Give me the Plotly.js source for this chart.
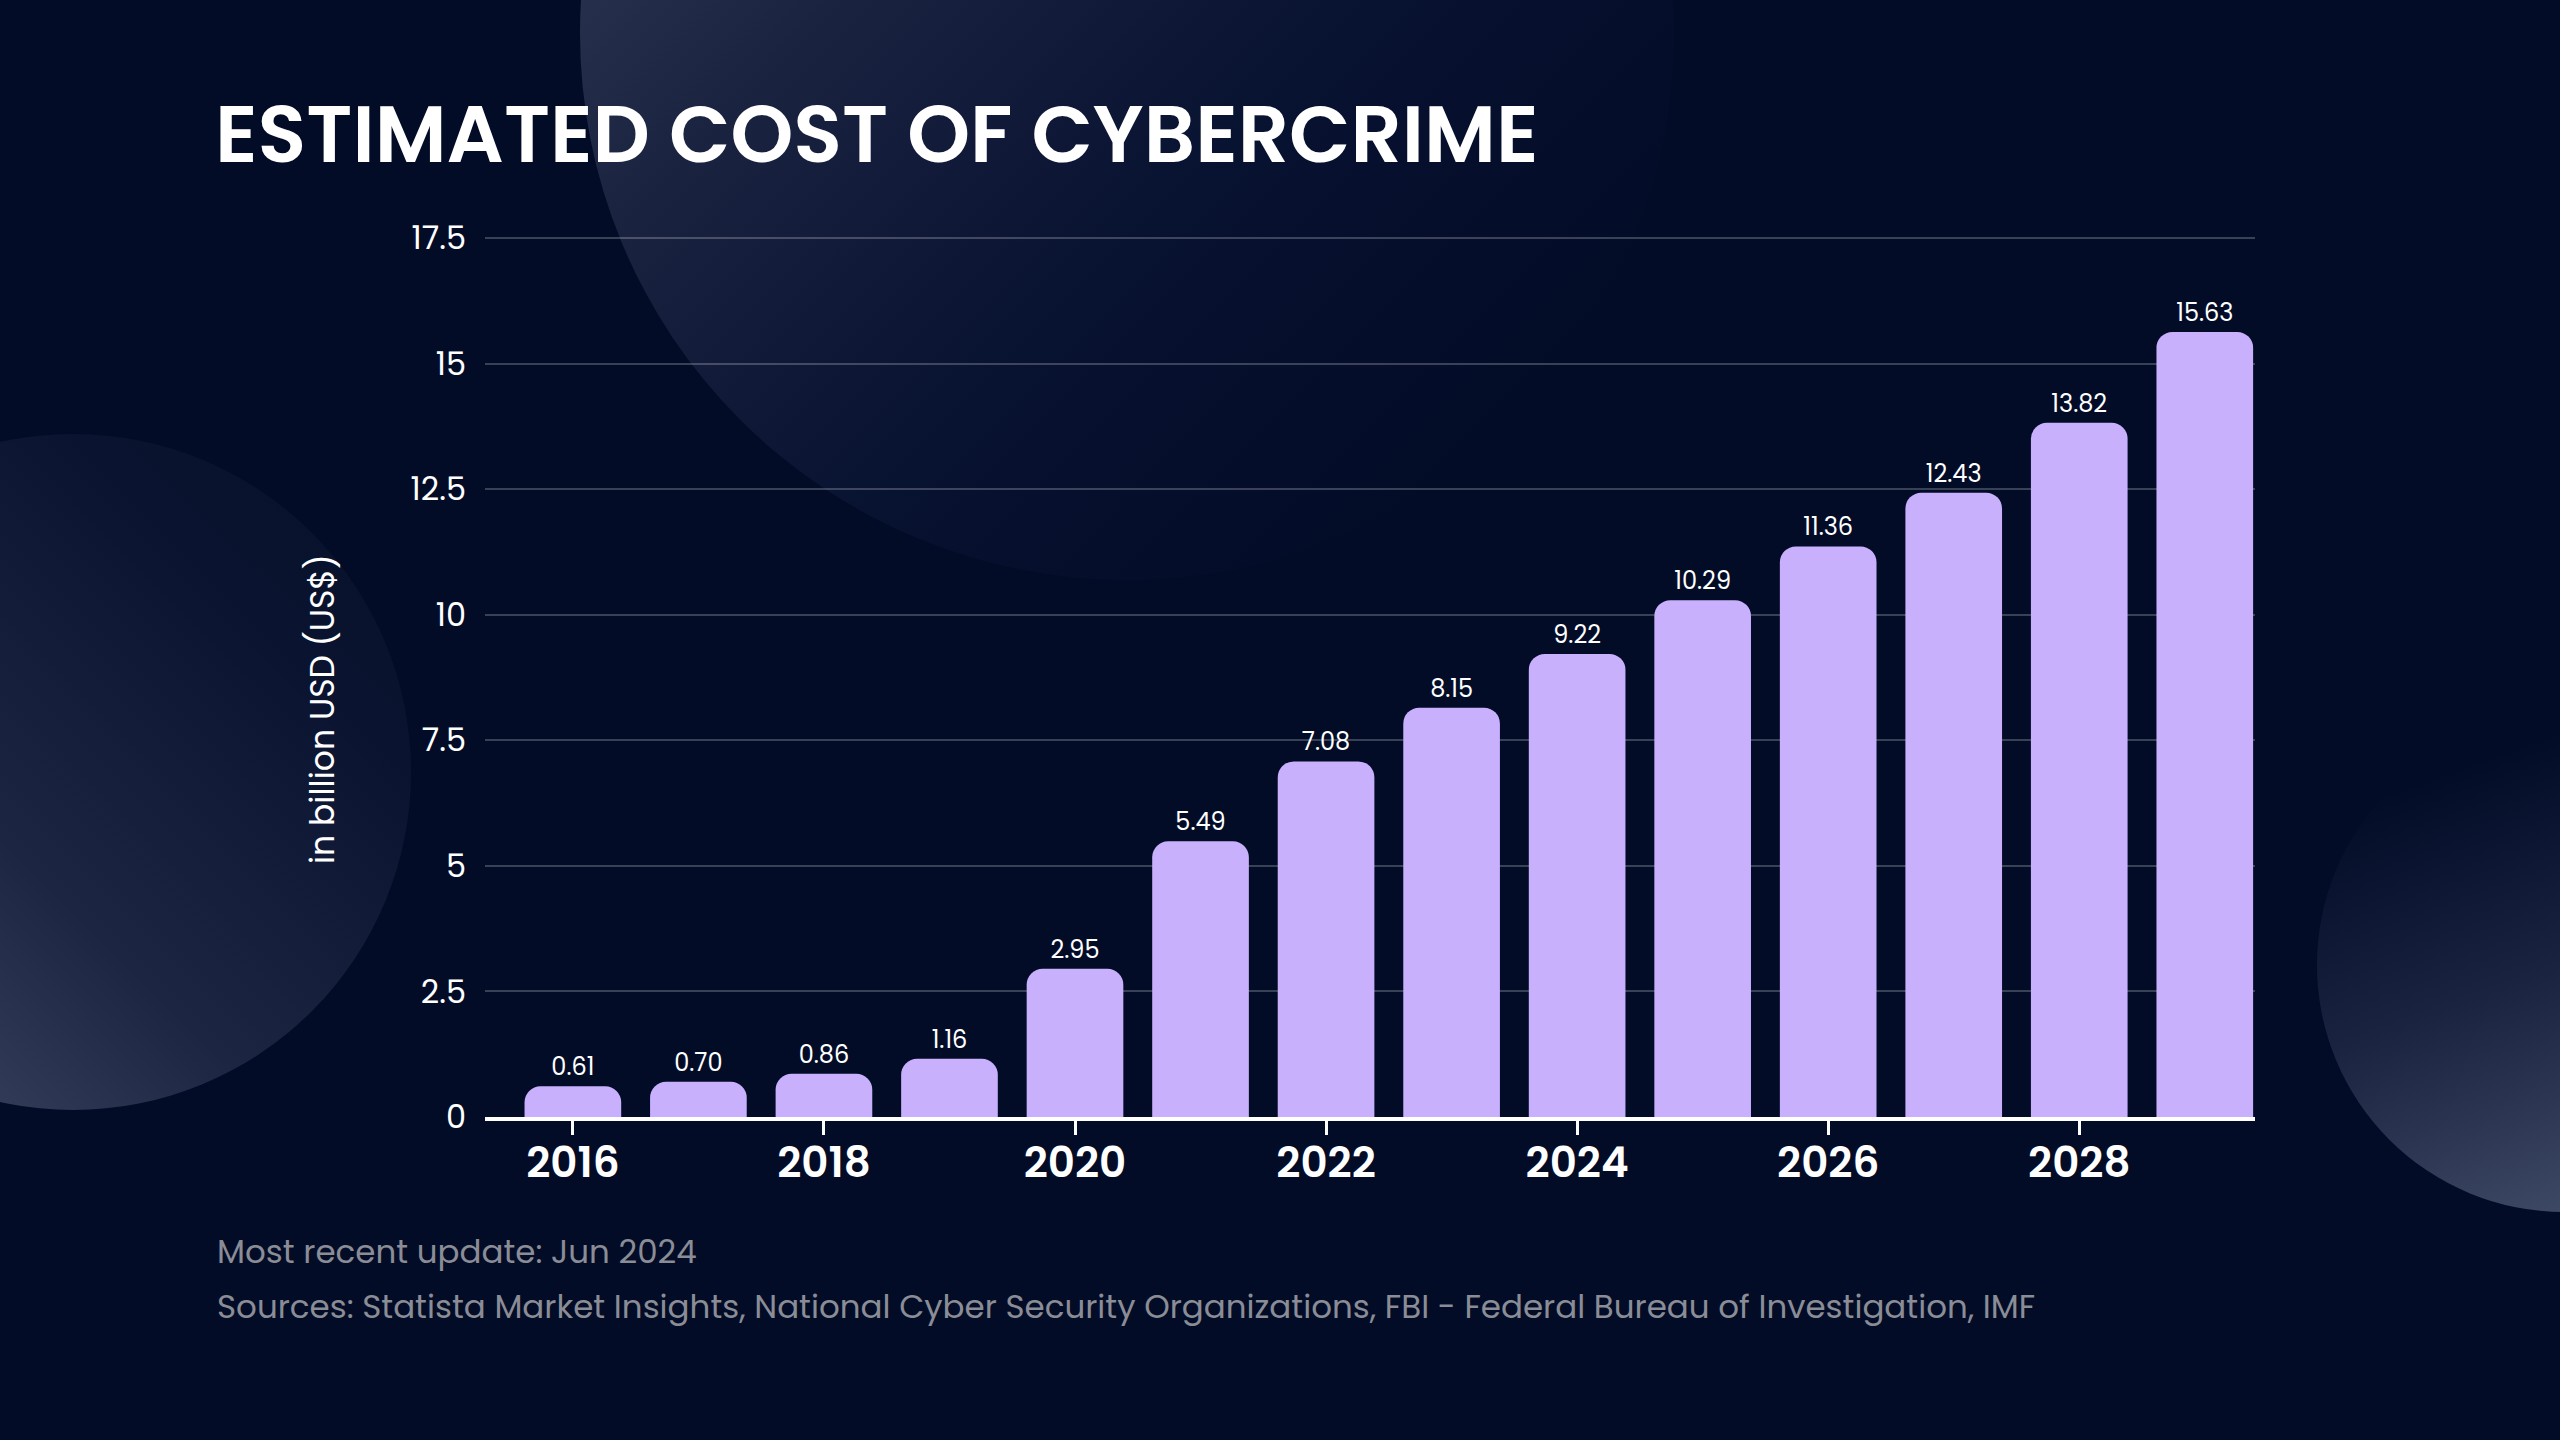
<!DOCTYPE html>
<html>
<head>
<meta charset="utf-8">
<script src="https://cdn.plot.ly/plotly-3.0.1.min.js"></script>
<style>
  html, body { margin: 0; padding: 0; width: 2560px; height: 1440px; overflow: hidden; background: #020c27; }
  .deco { position: absolute; border-radius: 50%; }
  #c1 { left: 580px; top: -514px; width: 1094px; height: 1094px;
        background: linear-gradient(135deg, #3e4862 0%, #1a2340 35%, #081231 60%, #020c27 85%); }
  #c2 { left: -265px; top: 434px; width: 676px; height: 676px;
        background: linear-gradient(to top right, #46516c 0%, #1c2542 40%, #0a1430 75%, #061029 100%); }
  #c3 { left: 2317px; top: 718px; width: 494px; height: 494px;
        background: linear-gradient(160deg, #020c27 15%, #1a2340 50%, #4a5672 100%); }
  #chart { position: absolute; left: 0; top: 0; width: 2560px; height: 1440px; }
</style>
</head>
<body>
<div class="deco" id="c1"></div>
<div class="deco" id="c2"></div>
<div class="deco" id="c3"></div>
<div id="chart"></div>
<script>
// Data
const years = [2016, 2017, 2018, 2019, 2020, 2021, 2022, 2023, 2024, 2025, 2026, 2027, 2028, 2029];
const costs = [0.61, 0.70, 0.86, 1.16, 2.95, 5.49, 7.08, 8.15, 9.22, 10.29, 11.36, 12.43, 13.82, 15.63];
const valueLabels = ["0.61", "0.70", "0.86", "1.16", "2.95", "5.49", "7.08", "8.15", "9.22", "10.29", "11.36", "12.43", "13.82", "15.63"];
const yTickVals = [0, 2.5, 5, 7.5, 10, 12.5, 15, 17.5];
const yTickText = ["0", "2.5", "5", "7.5", "10", "12.5", "15", "17.5"];
const titleText = "ESTIMATED COST OF CYBERCRIME";
const yTitleText = "in billion USD (US$)";
const updateText = "Most recent update: Jun 2024";
const sourceText = "Sources: Statista Market Insights, National Cyber Security Organizations, FBI - Federal Bureau of Investigation, IMF";

const FONT = "Poppins, Inter, 'Open Sans', sans-serif";

// plot area geometry (px)
const PL = 485, PR = 2255, PT = 236, PB = 1117;
const PW = PR - PL, PH = PB - PT;

const trace = {
  type: "bar",
  x: years,
  y: costs,
  text: valueLabels,
  texttemplate: "%{text}",
  textposition: "outside",
  cliponaxis: false,
  textfont: { family: FONT, size: 24, color: "#ffffff" },
  marker: { color: "#c8b0fc", cornerradius: 16, line: { width: 0 } },
  hoverinfo: "skip"
};

const layout = {
  width: 2560,
  height: 1440,
  paper_bgcolor: "rgba(0,0,0,0)",
  plot_bgcolor: "rgba(0,0,0,0)",
  margin: { l: PL, r: 2560 - PR, t: PT, b: 1440 - PB, pad: 0 },
  showlegend: false,
  bargap: 0.23,
  font: { family: FONT, color: "#ffffff" },
  title: {
    text: titleText,
    font: { family: FONT, size: 80, color: "#ffffff", weight: 600 },
    xref: "container", yref: "container",
    x: 215 / 2560, xanchor: "left",
    y: 1 - 134 / 1440, yanchor: "middle"
  },
  xaxis: {
    range: [2015.3, 2029.4],
    tickmode: "linear",
    tick0: 2016,
    dtick: 2,
    ticks: "outside",
    ticklen: 14,
    tickwidth: 3,
    tickcolor: "#ffffff",
    ticklabelstandoff: -8,
    showline: true,
    linecolor: "#ffffff",
    linewidth: 4,
    showgrid: false,
    zeroline: false,
    tickfont: { family: FONT, size: 42, color: "#ffffff", weight: 600 },
    fixedrange: true
  },
  yaxis: {
    range: [0, 17.5 * PH / 879],
    tickmode: "array",
    tickvals: yTickVals,
    ticktext: yTickText,
    showgrid: true,
    gridcolor: "rgba(255,255,255,0.22)",
    gridwidth: 2,
    zeroline: false,
    showline: false,
    ticks: "",
    ticklabelstandoff: 18,
    tickfont: { family: FONT, size: 32, color: "#ffffff" },
    fixedrange: true
  },
  annotations: [
    {
      text: yTitleText,
      textangle: -90,
      xref: "paper", yref: "paper",
      x: (322 - PL) / PW, y: (PB - 709) / PH,
      xanchor: "center", yanchor: "middle",
      showarrow: false,
      font: { family: FONT, size: 33, color: "#ffffff" }
    },
    {
      text: updateText,
      xref: "paper", yref: "paper",
      x: (215 - PL) / PW, y: (PB - 1251) / PH,
      xanchor: "left", yanchor: "middle",
      showarrow: false,
      font: { family: FONT, size: 32.5, color: "#8b8d96" }
    },
    {
      text: sourceText,
      xref: "paper", yref: "paper",
      x: (215 - PL) / PW, y: (PB - 1306) / PH,
      xanchor: "left", yanchor: "middle",
      showarrow: false,
      font: { family: FONT, size: 32.5, color: "#8b8d96" }
    }
  ]
};

Plotly.newPlot("chart", [trace], layout, { staticPlot: true, displayModeBar: false });
</script>
</body>
</html>
